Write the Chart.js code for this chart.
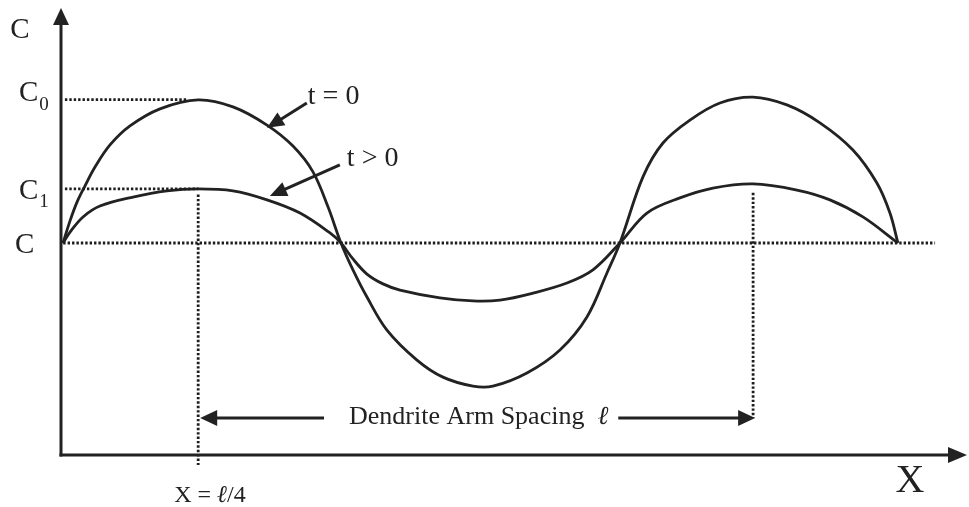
<!DOCTYPE html>
<html>
<head>
<meta charset="utf-8">
<script src="https://cdn.jsdelivr.net/npm/chart.js@4.4.1/dist/chart.umd.min.js"></script>
<style>
  html, body { margin: 0; padding: 0; background: #fff; }
  #wrap { width: 969px; height: 507px; }
</style>
</head>
<body>
<div id="wrap"><canvas id="chart" width="969" height="507"></canvas></div>
<script>
// Distance X is measured in units of the dendrite arm spacing ℓ,
// concentration C is relative to the mean composition (C = 1).

// Initial profile, t = 0
const xInitial = [0.0036, 0.0161, 0.0286, 0.0429, 0.0607, 0.0875, 0.1232, 0.1768, 0.2446, 0.3071,
  0.3679, 0.4143, 0.45, 0.4768, 0.5, 0.5214, 0.5464, 0.5821, 0.6357, 0.6821, 0.7357, 0.7714,
  0.8321, 0.8911, 0.9393, 0.975, 0.9982, 1.0393, 1.075, 1.1232, 1.1768, 1.2357, 1.2964,
  1.3554, 1.4143, 1.4571, 1.4804, 1.4946];
const cInitial = [1.0, 1.079, 1.146, 1.204, 1.271, 1.35, 1.418, 1.479, 1.511, 1.486,
  1.421, 1.346, 1.254, 1.129, 1.0, 0.904, 0.807, 0.689, 0.582, 0.521, 0.489, 0.489,
  0.536, 0.618, 0.736, 0.893, 1.0, 1.236, 1.357, 1.439, 1.5, 1.521, 1.493,
  1.429, 1.332, 1.214, 1.107, 1.0];

// Homogenised profile, t > 0
const xLater = [0.0036, 0.0161, 0.0393, 0.0696, 0.1286, 0.1893, 0.2446, 0.3071, 0.3679, 0.4268,
  0.4804, 0.5, 0.5214, 0.5464, 0.575, 0.6054, 0.6768, 0.7357, 0.7839, 0.8429, 0.9036, 0.95,
  0.9982, 1.0464, 1.1054, 1.1643, 1.2357, 1.3143, 1.3732, 1.4321, 1.4946];
const cLater = [1.0, 1.039, 1.093, 1.132, 1.164, 1.186, 1.193, 1.186, 1.154, 1.107,
  1.036, 1.0, 0.943, 0.889, 0.854, 0.832, 0.804, 0.793, 0.796, 0.821, 0.857, 0.904,
  1.0, 1.107, 1.161, 1.196, 1.211, 1.189, 1.154, 1.093, 1.0];

// Reference levels on the C axis and their labels
const levelValues = [1.0, 1.193, 1.512];
const levelLetters = ['C', 'C', 'C'];
const levelSubscripts = ['', '1', '0'];
const levelNudge = [2, 2, -6];

// Dendrite arm centres (X = ℓ/4 and X = 5ℓ/4)
const armCentres = [0.245, 1.236];
const meanLineEnd = 1.561;
const spacingArrowLevel = 0.375;
const belowAxis = 0.207;

// Curve call-outs: [label, tail x, tail c, tip x, tip c, label shift]
const callouts = [
  ['t = 0', 0.439, 1.5, 0.368, 1.411, 1],
  ['t > 0', 0.498, 1.279, 0.373, 1.168, 7]
];

const pts = (xs, ys) => xs.map((v, i) => ({ x: v, y: ys[i] }));
const INK = '#222';
const SERIF = "'Liberation Serif', 'Times New Roman', serif";

const dotted = (data) => ({
  data, showLine: true, pointRadius: 0, borderColor: '#1d1d1d', borderWidth: 2.8,
  borderDash: [2.4, 2], borderCapStyle: 'butt', tension: 0, clip: false
});
const curve = (data) => ({
  data, showLine: true, pointRadius: 0, borderColor: INK, borderWidth: 2.8,
  tension: 0.35, borderJoinStyle: 'round', clip: false
});

function arrow(ctx, x1, y1, x2, y2, len, half, lw) {
  const a = Math.atan2(y2 - y1, x2 - x1);
  const bx = x2 - Math.cos(a) * len, by = y2 - Math.sin(a) * len;
  ctx.lineWidth = lw;
  ctx.beginPath();
  ctx.moveTo(x1, y1);
  ctx.lineTo(bx + Math.cos(a) * 2, by + Math.sin(a) * 2);
  ctx.stroke();
  ctx.beginPath();
  ctx.moveTo(x2, y2);
  ctx.lineTo(bx + Math.sin(a) * half, by - Math.cos(a) * half);
  ctx.lineTo(bx - Math.sin(a) * half, by + Math.cos(a) * half);
  ctx.closePath();
  ctx.fill();
}

// Draws a run of [text, italic] pieces starting at x, returns the end x
function runText(ctx, pieces, x, y, size, measureOnly) {
  let cx = x;
  for (const [t, it] of pieces) {
    ctx.font = (it ? 'italic ' : '') + size + 'px ' + SERIF;
    if (!measureOnly) ctx.fillText(t, cx, y);
    cx += ctx.measureText(t).width;
  }
  return cx;
}

const sketch = {
  id: 'sketch',
  afterDatasetsDraw(chart) {
    const { ctx, chartArea: a, scales: { x, y } } = chart;
    ctx.save();
    ctx.strokeStyle = INK;
    ctx.fillStyle = INK;
    ctx.lineCap = 'butt';

    // axes with arrow heads
    arrow(ctx, a.left, a.bottom + 1.5, a.left, a.top, 17, 8, 3);
    arrow(ctx, a.left - 1.5, a.bottom, a.right, a.bottom, 19, 8, 3);

    // axis titles
    ctx.textBaseline = 'alphabetic';
    ctx.textAlign = 'center';
    ctx.font = '29px ' + SERIF;
    ctx.fillText('C', a.left - 41, a.top + 30);
    ctx.font = '40px ' + SERIF;
    ctx.fillText('X', x.getPixelForValue(1.516), a.bottom + 37);

    // level labels C, C1, C0
    ctx.textAlign = 'left';
    levelValues.forEach((v, i) => {
      const py = y.getPixelForValue(v) + levelNudge[i];
      const left = a.left - 44 + (levelSubscripts[i] ? 2 : -2);
      ctx.font = '29px ' + SERIF;
      ctx.textBaseline = 'middle';
      ctx.fillText(levelLetters[i], left, py);
      if (levelSubscripts[i]) {
        const w = ctx.measureText(levelLetters[i]).width;
        ctx.font = '19px ' + SERIF;
        ctx.fillText(levelSubscripts[i], left + w + 1, py + 11);
      }
    });

    // curve call-outs
    ctx.textBaseline = 'alphabetic';
    callouts.forEach(([label, tx, tc, hx, hc, shift]) => {
      const px = x.getPixelForValue(tx), py = y.getPixelForValue(tc);
      arrow(ctx, px, py, x.getPixelForValue(hx), y.getPixelForValue(hc), 17, 7.5, 3);
      ctx.font = '28px ' + SERIF;
      ctx.fillText(label, px + shift, py + 1);
    });

    // dendrite arm spacing
    const ay = y.getPixelForValue(spacingArrowLevel);
    const x0 = x.getPixelForValue(armCentres[0]);
    const x1 = x.getPixelForValue(armCentres[1]);
    const pieces = [['Dendrite Arm Spacing  ', false], ['ℓ', true]];
    const tw = runText(ctx, pieces, 0, 0, 26, true);
    const tl = (x0 + x1) / 2 - tw / 2 + 3;
    ctx.textBaseline = 'middle';
    runText(ctx, pieces, tl, ay - 1, 26, false);
    arrow(ctx, tl - 25, ay, x0 + 2, ay, 17, 8, 3);
    arrow(ctx, tl + tw + 10, ay, x1 + 2, ay, 17, 8, 3);

    // position of the first arm centre
    ctx.textBaseline = 'alphabetic';
    runText(ctx, [['X = ', false], ['ℓ', true], ['/4', false]], x0 - 24, a.bottom + 47, 24, false);

    ctx.restore();
  }
};

new Chart(document.getElementById('chart'), {
  type: 'scatter',
  data: {
    datasets: [
      dotted([{ x: 0.004, y: levelValues[0] }, { x: meanLineEnd, y: levelValues[0] }]),
      dotted([{ x: 0.007, y: levelValues[1] }, { x: armCentres[0], y: levelValues[1] }]),
      dotted([{ x: 0.007, y: levelValues[2] }, { x: armCentres[0] - 0.02, y: levelValues[2] }]),
      dotted([{ x: armCentres[0], y: levelValues[1] - 0.02 }, { x: armCentres[0], y: belowAxis }]),
      dotted([{ x: armCentres[1], y: 1.179 }, { x: armCentres[1], y: spacingArrowLevel }]),
      curve(pts(xInitial, cInitial)),
      curve(pts(xLater, cLater))
    ]
  },
  options: {
    responsive: false,
    devicePixelRatio: 1,
    animation: false,
    layout: { padding: { left: 61, top: 8, right: 2, bottom: 52 } },
    plugins: { legend: { display: false }, tooltip: { enabled: false } },
    scales: {
      x: { type: 'linear', min: 0, max: 1.618, display: false },
      y: { type: 'linear', min: 0.243, max: 1.839, display: false }
    }
  },
  plugins: [sketch]
});
</script>
</body>
</html>
